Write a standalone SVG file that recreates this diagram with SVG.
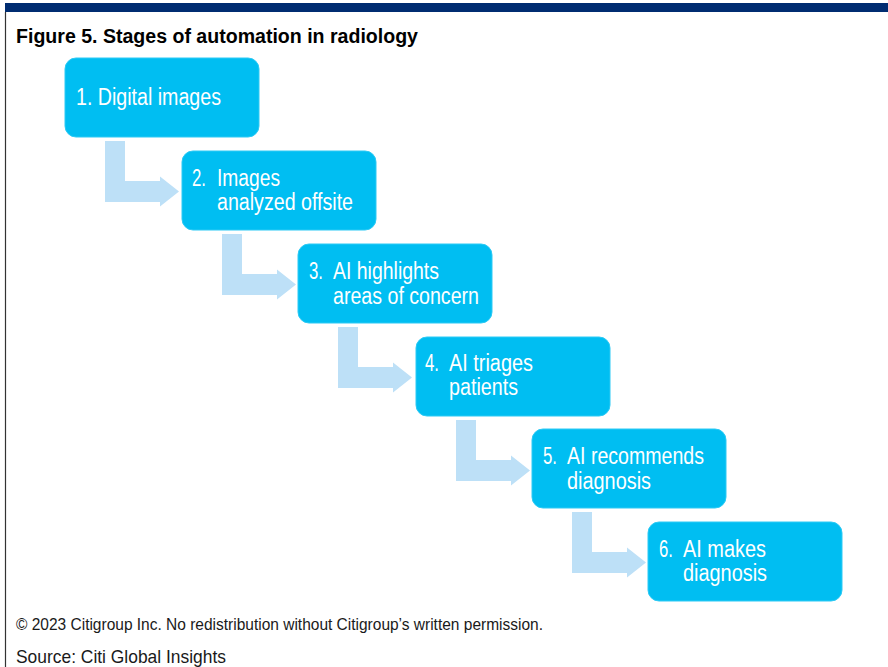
<svg xmlns="http://www.w3.org/2000/svg" width="888" height="667" viewBox="0 0 888 667">
  <style>
    .title { font-family: "Liberation Sans Narrow", "Arial Narrow", "Liberation Sans", Arial, sans-serif; font-weight: bold; font-size: 20px; fill: #000; }
    .foot { font-family: "Liberation Sans Narrow", "Arial Narrow", "Liberation Sans", Arial, sans-serif; font-size: 16.5px; fill: #1a1a1a; }
    .src { font-family: "Liberation Sans Narrow", "Arial Narrow", "Liberation Sans", Arial, sans-serif; font-size: 19px; fill: #1a1a1a; }
    .box { fill: #00BEF2; stroke: #2ccaf5; stroke-width: 1; }
    .lbl { font-family: "Liberation Sans Narrow", "Arial Narrow", "Liberation Sans", Arial, sans-serif; font-size: 23.5px; fill: #fff; }
    .arrow { fill: #BDE0F7; }
  </style>

  <rect width="888" height="667" fill="#fff"/>
  <!-- header band and left rule -->
  <rect x="5" y="3" width="883" height="9" fill="#002C71"/>
  <line x1="5.5" y1="12" x2="5.5" y2="667" stroke="#333" stroke-width="1.2"/>

  <text class="title" x="16" y="43" textLength="402" lengthAdjust="spacingAndGlyphs">Figure 5. Stages of automation in radiology</text>

  <!-- bent connector arrows between consecutive stages -->
  <g id="connectors">
    <polygon class="arrow" points="105,141 125,141 125,181 160,181 160,176.5 179,191.5 160,206.5 160,202 105,202"/>
    <polygon class="arrow" points="222,234 242,234 242,274 277,274 277,269.5 296,284.5 277,299.5 277,295 222,295"/>
    <polygon class="arrow" points="338,327 358,327 358,367 393,367 393,362.5 412,377.5 393,392.5 393,388 338,388"/>
    <polygon class="arrow" points="456,420 476,420 476,460 511,460 511,455.5 530,470.5 511,485.5 511,481 456,481"/>
    <polygon class="arrow" points="572,512 592,512 592,552 627,552 627,547.5 646,562.5 627,577.5 627,573 572,573"/>
  </g>

  <g id="stage1">
    <rect class="box" x="65" y="58" width="194" height="79" rx="11"/>
    <text class="lbl" x="76" y="105" textLength="145" lengthAdjust="spacingAndGlyphs">1. Digital images</text>
  </g>

  <g id="stage2">
    <rect class="box" x="182" y="151" width="194" height="79" rx="11"/>
    <text class="lbl" x="192" y="186" textLength="14" lengthAdjust="spacingAndGlyphs">2.</text>
    <text class="lbl" x="217" y="186" textLength="63" lengthAdjust="spacingAndGlyphs">Images</text>
    <text class="lbl" x="217" y="210" textLength="136" lengthAdjust="spacingAndGlyphs">analyzed offsite</text>
  </g>

  <g id="stage3">
    <rect class="box" x="298" y="244" width="194" height="79" rx="11"/>
    <text class="lbl" x="309" y="279" textLength="14" lengthAdjust="spacingAndGlyphs">3.</text>
    <text class="lbl" x="333" y="279" textLength="106" lengthAdjust="spacingAndGlyphs">AI highlights</text>
    <text class="lbl" x="333" y="304" textLength="146" lengthAdjust="spacingAndGlyphs">areas of concern</text>
  </g>

  <g id="stage4">
    <rect class="box" x="416" y="337" width="194" height="79" rx="11"/>
    <text class="lbl" x="425" y="371" textLength="14" lengthAdjust="spacingAndGlyphs">4.</text>
    <text class="lbl" x="449" y="371" textLength="84" lengthAdjust="spacingAndGlyphs">AI triages</text>
    <text class="lbl" x="449" y="395" textLength="69" lengthAdjust="spacingAndGlyphs">patients</text>
  </g>

  <g id="stage5">
    <rect class="box" x="532" y="429" width="194" height="79" rx="11"/>
    <text class="lbl" x="543" y="464" textLength="14" lengthAdjust="spacingAndGlyphs">5.</text>
    <text class="lbl" x="567" y="464" textLength="137" lengthAdjust="spacingAndGlyphs">AI recommends</text>
    <text class="lbl" x="567" y="489" textLength="84" lengthAdjust="spacingAndGlyphs">diagnosis</text>
  </g>

  <g id="stage6">
    <rect class="box" x="648" y="522" width="194" height="79" rx="11"/>
    <text class="lbl" x="659" y="557" textLength="14" lengthAdjust="spacingAndGlyphs">6.</text>
    <text class="lbl" x="683" y="557" textLength="83" lengthAdjust="spacingAndGlyphs">AI makes</text>
    <text class="lbl" x="683" y="581" textLength="84" lengthAdjust="spacingAndGlyphs">diagnosis</text>
  </g>

  <text class="foot" x="16" y="630" textLength="527" lengthAdjust="spacingAndGlyphs">© 2023 Citigroup Inc. No redistribution without Citigroup’s written permission.</text>
  <text class="src" x="16" y="663" textLength="210" lengthAdjust="spacingAndGlyphs">Source: Citi Global Insights</text>
</svg>
